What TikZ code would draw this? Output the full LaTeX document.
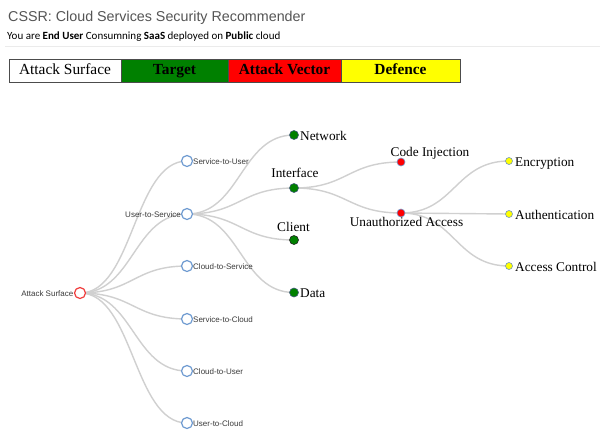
\documentclass[tikz,border=0pt]{standalone}
\usepackage{fontspec}
\setmainfont{Liberation Serif}
\newfontfamily\arialfont{Liberation Sans}
\newfontfamily\calibrifont{Carlito}
\usetikzlibrary{backgrounds,calc}
\definecolor{linkgray}{HTML}{D0D0D0}
\definecolor{ringblue}{HTML}{6F9BD1}
\definecolor{ringred}{HTML}{F03C3C}
\definecolor{tgtgreen}{HTML}{008000}
\definecolor{vecred}{HTML}{FF0000}
\definecolor{defyellow}{HTML}{FFFF00}
\definecolor{titlegray}{HTML}{555555}
\definecolor{labelgray}{HTML}{3A3A3A}
\tikzset{
  edge/.style={draw=linkgray, line width=1.4pt},
  rootnode/.style={circle, draw=ringred, fill=white, line width=1.2pt, minimum size=11pt, inner sep=0pt},
  surfnode/.style={circle, draw=ringblue, fill=white, line width=1.2pt, minimum size=11pt, inner sep=0pt},
  tgtnode/.style={circle, draw=ringblue!60!black, fill=tgtgreen, line width=0.6pt, minimum size=9pt, inner sep=0pt},
  vecnode/.style={circle, draw=ringblue, fill=vecred, line width=0.6pt, minimum size=8pt, inner sep=0pt},
  defnode/.style={circle, draw=ringblue!80!gray, fill=defyellow, line width=0.6pt, minimum size=7pt, inner sep=0pt},
  smalllbl/.style={font=\arialfont\fontsize{8}{9}\selectfont, text=labelgray, inner sep=0pt,
    text height=8pt, text depth=2pt},
  biglbl/.style={font=\fontsize{13.3}{15}\selectfont, text=black, inner sep=0pt,
    text height=12pt, text depth=2pt},
  legendbox/.style={draw=black!70, line width=0.6pt, minimum height=23pt, inner sep=0pt,
    text height=10.5pt, text depth=3pt, font=\fontsize{15.4}{17}\selectfont},
}
\newcommand{\treelink}[2]{%
  \draw[edge] let \p1=(#1.center), \p2=(#2.center) in
    (\p1) .. controls ({(\x1+\x2)/2},\y1) and ({(\x1+\x2)/2},\y2) .. (\p2);}
\begin{document}
\begin{tikzpicture}[x=1pt, y=-1pt]
\useasboundingbox (0,0) rectangle (600,432);

% heading
\node[anchor=base west, inner sep=0pt, font=\arialfont\fontsize{14.3}{17}\selectfont, text=titlegray]
  (title) at (8,21) {CSSR: Cloud Services Security Recommender};
\node[anchor=base west, inner sep=0pt, font=\calibrifont\fontsize{11}{13}\selectfont, text=black]
  (role) at (7,39) {You are \textbf{End User} Consumning \textbf{SaaS} deployed on \textbf{Public} cloud};
\draw[black!8, line width=0.8pt] (5,46) -- (600,46);

% legend strip
\node[legendbox, fill=white, minimum width=112pt] (lgsurf) at (65,70.5) {Attack Surface};
\node[legendbox, fill=tgtgreen, minimum width=107pt] (lgtgt) at (174.5,70.5) {\textbf{Target}};
\node[legendbox, fill=vecred, minimum width=113pt] (lgvec) at (284.5,70.5) {\textbf{Attack Vector}};
\node[legendbox, fill=defyellow, minimum width=119pt] (lgdef) at (400.5,70.5) {\textbf{Defence}};

% tree nodes
\node[rootnode] (root) at (80,293) {};
\node[surfnode] (s2u) at (187,161) {};
\node[surfnode] (u2s) at (187,214) {};
\node[surfnode] (c2s) at (187,266) {};
\node[surfnode] (s2c) at (187,319) {};
\node[surfnode] (c2u) at (187,371) {};
\node[surfnode] (u2c) at (187,423) {};

\node[tgtnode] (net) at (294,135) {};
\node[tgtnode] (iface) at (294,188) {};
\node[tgtnode, draw=black!85] (client) at (294,240) {};
\node[tgtnode] (data) at (294,292.5) {};

\node[vecnode] (codeinj) at (401,162) {};
\node[vecnode] (unauth) at (401,213) {};

\node[defnode] (enc) at (509,161) {};
\node[defnode] (auth) at (509,214) {};
\node[defnode] (acc) at (509,266) {};

% links behind the nodes
\begin{pgfonlayer}{background}
\fill[white] (0,0) rectangle (600,432);
\foreach \c in {s2u,u2s,c2s,s2c,c2u,u2c} {\treelink{root}{\c}}
\foreach \c in {net,iface,client,data} {\treelink{u2s}{\c}}
\foreach \c in {codeinj,unauth} {\treelink{iface}{\c}}
\foreach \c in {enc,auth,acc} {\treelink{unauth}{\c}}
\end{pgfonlayer}

% labels
\node[smalllbl, anchor=east] (lroot) at (73.5,293) {Attack Surface};
\node[smalllbl, anchor=west] (ls2u) at (193,161) {Service-to-User};
\node[smalllbl, anchor=east] (lu2s) at (181,214) {User-to-Service};
\node[smalllbl, anchor=west] (lc2s) at (193,266) {Cloud-to-Service};
\node[smalllbl, anchor=west] (ls2c) at (193,319) {Service-to-Cloud};
\node[smalllbl, anchor=west] (lc2u) at (193,371) {Cloud-to-User};
\node[smalllbl, anchor=west] (lu2c) at (193,423) {User-to-Cloud};

\node[biglbl, anchor=west] (lnet) at (300,135.5) {Network};
\node[biglbl] (liface) at (295,172.5) {Interface};
\node[biglbl] (lclient) at (293.5,226.5) {Client};
\node[biglbl, anchor=west] (ldata) at (300,292) {Data};

\node[biglbl] (lcodeinj) at (430,151.5) {Code Injection};
\node[biglbl] (lunauth) at (406.5,221.5) {Unauthorized Access};

\node[biglbl, anchor=west] (lenc) at (515,161) {Encryption};
\node[biglbl, anchor=west] (lauth) at (515,214.5) {Authentication};
\node[biglbl, anchor=west] (lacc) at (515,266) {Access Control};
\end{tikzpicture}
\end{document}
